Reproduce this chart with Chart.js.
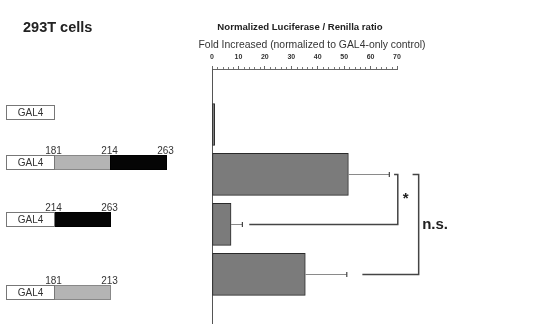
<!DOCTYPE html>
<html><head><meta charset="utf-8">
<script src="https://cdn.jsdelivr.net/npm/chart.js@4"></script>
<style>html,body{margin:0;padding:0;background:#fff}#wrap{width:547px;height:324px}</style>
</head><body><div id="wrap"><canvas id="c" width="547" height="324"></canvas></div>
<script>
// ---- data ----
const constructs = ['GAL4', 'GAL4 181-263', 'GAL4 214-263', 'GAL4 181-213'];
const foldValues = [1, 51.6, 7.2, 35.3];
const foldErrors = [0, 15.5, 4.3, 15.7];
const tickValues = [0, 10, 20, 30, 40, 50, 60, 70];
const diagramSegments = [[], ['gray', 'black'], ['black'], ['gray']];
const diagramLabels = [[], ['181', '214', '263'], ['214', '263'], ['181', '213']];
const sigPairs = [[1, 2, '*'], [1, 3, 'n.s.']];

const FONT = "'Liberation Sans', Arial, Helvetica, sans-serif";
// layout (pixels / value-space positions of annotations)
const diagramRowY = [112, 162, 219, 292];
const bracketGeom = [
  {at: 70.3, topFrom: 68.9, botFrom: 14.1, dx: 5, dy: -4},
  {at: 78.2, topFrom: 75.9, botFrom: 56.9, dx: 3.5, dy: 0}
];

const deco = {
  id: 'deco',
  afterDatasetsDraw(chart) {
    const c = chart.ctx, xs = chart.scales.x, ys = chart.scales.y;
    c.save();
    // titles
    c.fillStyle = '#222';
    c.textBaseline = 'middle';
    c.textAlign = 'left';
    c.font = 'bold 14.5px ' + FONT;
    c.fillText('293T cells', 23, 28);
    c.textAlign = 'center';
    c.font = 'bold 9.6px ' + FONT;
    c.fillText('Normalized Luciferase / Renilla ratio', 300, 27);
    c.font = '10.4px ' + FONT;
    c.fillStyle = '#333';
    c.fillText('Fold Increased (normalized to GAL4-only control)', 312, 45.5);

    // minor ticks
    const axY = xs.bottom;
    c.strokeStyle = '#777'; c.lineWidth = 1;
    for (let v = xs.min; v <= xs.max; v += 2) {
      if (v % 10 === 0) continue;
      const px = Math.round(xs.getPixelForValue(v)) + 0.5;
      c.beginPath(); c.moveTo(px, axY); c.lineTo(px, axY - 2); c.stroke();
    }

    // error bars
    foldValues.forEach((v, i) => {
      const e = foldErrors[i];
      if (!e) return;
      const y = Math.round(ys.getPixelForValue(i + 1)) + 0.5;
      const x0 = xs.getPixelForValue(v), x1 = xs.getPixelForValue(v + e);
      c.strokeStyle = '#8a8a8a'; c.lineWidth = 1;
      c.beginPath(); c.moveTo(x0, y); c.lineTo(x1, y); c.stroke();
      c.strokeStyle = '#444'; c.lineWidth = 1.2;
      c.beginPath(); c.moveTo(x1, y - 2.5); c.lineTo(x1, y + 2.5); c.stroke();
    });

    // significance brackets
    sigPairs.forEach((p, k) => {
      const g = bracketGeom[k];
      const yT = Math.round(ys.getPixelForValue(p[0] + 1)) + 0.5;
      const yB = Math.round(ys.getPixelForValue(p[1] + 1)) + 0.5;
      const xa = xs.getPixelForValue(g.at);
      c.strokeStyle = '#444'; c.lineWidth = 1.5;
      c.beginPath();
      c.moveTo(xs.getPixelForValue(g.topFrom), yT);
      c.lineTo(xa, yT); c.lineTo(xa, yB);
      c.lineTo(xs.getPixelForValue(g.botFrom), yB);
      c.stroke();
      c.fillStyle = '#222';
      c.textAlign = 'left'; c.textBaseline = 'middle';
      if (p[2] === '*') c.font = 'bold 15px ' + FONT;
      else c.font = "bold 15px 'Liberation Sans Narrow', " + FONT;
      c.fillText(p[2], xa + g.dx, (yT + yB) / 2 + g.dy + (p[2] === '*' ? 3 : 0));
    });

    // construct diagrams
    const bx = 6.5, gw = 48, sw = 56, bh = 14;
    diagramRowY.forEach((cy, r) => {
      const top = Math.round(cy - bh / 2) + 0.5;
      let x = bx + gw;
      diagramSegments[r].forEach(s => {
        c.fillStyle = s === 'gray' ? '#b4b4b4' : '#050505';
        c.fillRect(x, top, sw, bh);
        c.strokeStyle = s === 'gray' ? '#888' : '#000';
        c.lineWidth = 1;
        c.strokeRect(x, top, sw, bh);
        x += sw;
      });
      c.fillStyle = '#fff';
      c.fillRect(bx, top, gw, bh);
      c.strokeStyle = '#777'; c.lineWidth = 1;
      c.strokeRect(bx, top, gw, bh);
      c.fillStyle = '#333';
      c.font = '10px ' + FONT;
      c.textAlign = 'center'; c.textBaseline = 'middle';
      c.fillText('GAL4', bx + gw / 2, top + bh / 2 + 0.5);
      c.textBaseline = 'alphabetic';
      diagramLabels[r].forEach((lab, j) => {
        c.fillText(lab, bx + gw + j * sw - 1, top - 2);
      });
    });
    c.restore();
  }
};

new Chart(document.getElementById('c'), {
  type: 'bar',
  data: {
    labels: constructs,
    datasets: [{
      data: foldValues.map((v, i) => ({x: v, y: i + 1})),
      backgroundColor: '#7b7b7b',
      borderColor: '#2a2a2a',
      borderWidth: 1,
      borderSkipped: false,
      barThickness: 42
    }]
  },
  options: {
    indexAxis: 'y',
    responsive: false,
    animation: false,
    events: [],
    layout: {padding: {left: 212, right: 150, top: 40, bottom: 0}},
    plugins: {legend: {display: false}, tooltip: {enabled: false}},
    scales: {
      x: {
        type: 'linear', position: 'top', min: 0, max: 70,
        afterBuildTicks: s => { s.ticks = tickValues.map(v => ({value: v})); },
        ticks: {font: {size: 7, weight: 'bold', family: FONT}, color: '#333', padding: 5, maxRotation: 0, autoSkip: false},
        grid: {drawOnChartArea: false, drawTicks: true, tickLength: 3, tickColor: '#666'},
        border: {color: '#666', width: 1},
        afterFit: s => { s.height = 29; }
      },
      y: {
        type: 'linear', min: 0.144, max: 4.739, reverse: true,
        ticks: {display: false},
        grid: {drawOnChartArea: false, drawTicks: false},
        border: {color: '#555', width: 1},
        afterFit: s => { s.width = 0; }
      }
    }
  },
  plugins: [deco]
});
</script>
</body></html>
